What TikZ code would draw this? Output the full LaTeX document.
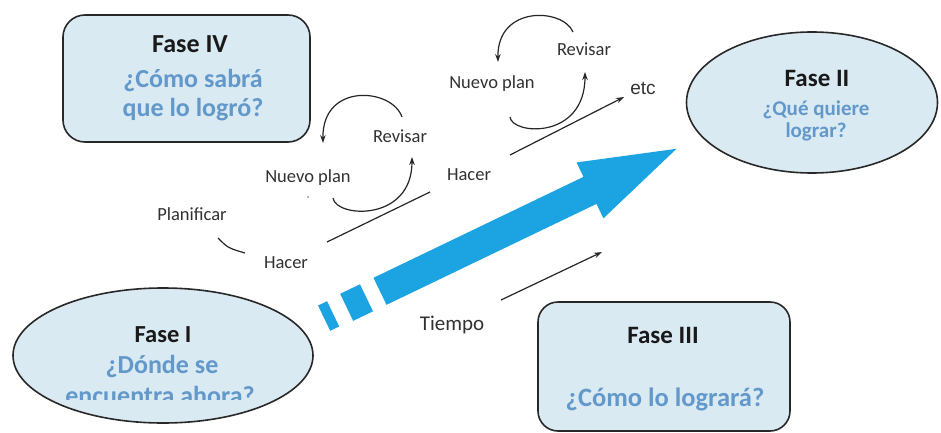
\documentclass[tikz,border=0pt]{standalone}
\usepackage{fontspec}
\setmainfont{Carlito}
\newfontfamily\arialf{Liberation Sans}
\usetikzlibrary{arrows.meta,shapes.geometric}
\definecolor{phasefill}{RGB}{218,234,243}
\definecolor{phaseline}{RGB}{40,40,40}
\definecolor{titlecol}{RGB}{25,25,25}
\definecolor{qblue}{RGB}{98,152,202}
\definecolor{bigblue}{RGB}{28,163,226}
\definecolor{lbl}{RGB}{50,50,50}
\begin{document}
\begin{tikzpicture}[x=1pt,y=-1pt,
  phasebox/.style={draw=phaseline,line width=1.6pt,fill=phasefill,rounded corners=22pt,inner sep=0pt},
  phaseell/.style={draw=phaseline,line width=1.6pt,fill=phasefill,ellipse,inner sep=0pt},
  title/.style={anchor=base,font=\bfseries\fontsize{#1}{#1}\selectfont,text=titlecol,inner sep=0pt},
  title/.default=26,
  quest/.style={anchor=base,font=\bfseries\fontsize{#1}{#1}\selectfont,text=qblue,inner sep=0pt},
  quest/.default=26,
  lab/.style={anchor=base,font=\fontsize{18.5}{20}\selectfont,text=lbl,inner sep=0pt},
  curve/.style={line width=1.2pt,draw=black!85},
  tipped/.style={-{Stealth[length=8pt,width=5.5pt]}},
]
\useasboundingbox[fill=white] (0,0) rectangle (941,433);

% phase shapes
\node[phasebox,minimum width=247pt,minimum height=127pt] (f4) at (186.5,78.5) {};
\node[phaseell,minimum width=251pt,minimum height=141pt] (f2) at (812,102.5) {};
\node[phaseell,minimum width=300pt,minimum height=135pt] (f1) at (163,355.5) {};
\node[phasebox,rounded corners=20pt,minimum width=252pt,minimum height=129pt] (f3) at (664,366.5) {};

% texts of phases
\node[title] (t4) at (190,53) {Fase IV};
\node[quest] (q4a) at (193,88) {¿Cómo sabrá};
\node[quest] (q4b) at (193,117) {que lo logró?};

\node[title=25] (t2) at (817,87) {Fase II};
\node[quest=21] (q2a) at (816,116) {¿Qué quiere};
\node[quest=21] (q2b) at (816,137) {lograr?};

\node[title=24.5] (t1) at (163,342) {Fase I};
\node[quest] (q1a) at (162,373) {¿Dónde se};
\begin{scope}
\clip (0,0) rectangle (941,399);
\node[quest] (q1b) at (160,404) {encuentra ahora?};
\end{scope}

\node[title=25] (t3) at (663,343) {Fase III};
\node[quest=26.5] (q3) at (665,406) {¿Cómo lo logrará?};

% big arrow
\begin{scope}[shift={(380,291.3)},rotate=25.67]
\fill[bigblue] (0,-15) -- (233,-15) -- (233,-31) -- (329,0) -- (233,31) -- (233,15) -- (0,15) -- cycle;
\fill[bigblue] (-37,-15) rectangle (-15,15);
\fill[bigblue] (-62,-14) rectangle (-52,14);
\end{scope}

% labels
\node[lab] (plan) at (192,220) {Planificar};
\node[lab] (hac1) at (286,268) {Hacer};
\node[lab] (np1) at (308,182) {Nuevo plan};
\node[lab] (rev1) at (400,142) {Revisar};
\node[lab] (hac2) at (469,180) {Hacer};
\node[lab] (np2) at (492,89) {Nuevo plan};
\node[lab] (rev2) at (584,56) {Revisar};
\node[anchor=base,inner sep=0pt,font=\arialf\fontsize{19}{20}\selectfont,text=lbl] (etc) at (643,95) {etc};
\node[anchor=base,inner sep=0pt,font=\fontsize{21}{22}\selectfont,text=lbl] (tiempo) at (452,330) {Tiempo};
\fill[black!45] (308,197) circle (1pt);

% connector coordinates
\coordinate (pa) at (218,238);
\coordinate (pb) at (245,253);
\coordinate (a1s) at (402,117);
\coordinate (a1e) at (323,143);
\coordinate (b1s) at (333,198);
\coordinate (b1e) at (412,157);
\coordinate (l1s) at (327,242);
\coordinate (l1e) at (430,192);
\coordinate (a2s) at (573,32);
\coordinate (a2e) at (498,62);
\coordinate (b2s) at (510,117);
\coordinate (b2e) at (585,72);
\coordinate (l2s) at (510,155);
\coordinate (l2e) at (624,97);
\coordinate (ts) at (501,300);
\coordinate (te) at (602,252);

% curves
\draw[curve] (pa) .. controls (228,248) .. (pb);
\draw[curve,tipped] (a1s) .. controls (392,88) and (322,82) .. (a1e);
\draw[curve,tipped] (b1s) .. controls (336,218) and (412,222) .. (b1e);
\draw[curve] (l1s) -- (l1e);
\draw[curve,tipped] (a2s) .. controls (563,8) and (497,5) .. (a2e);
\draw[curve,tipped] (b2s) .. controls (512,135) and (585,140) .. (b2e);
\draw[curve,tipped] (l2s) -- (l2e);
\draw[curve,tipped] (ts) -- (te);
\end{tikzpicture}
\end{document}
